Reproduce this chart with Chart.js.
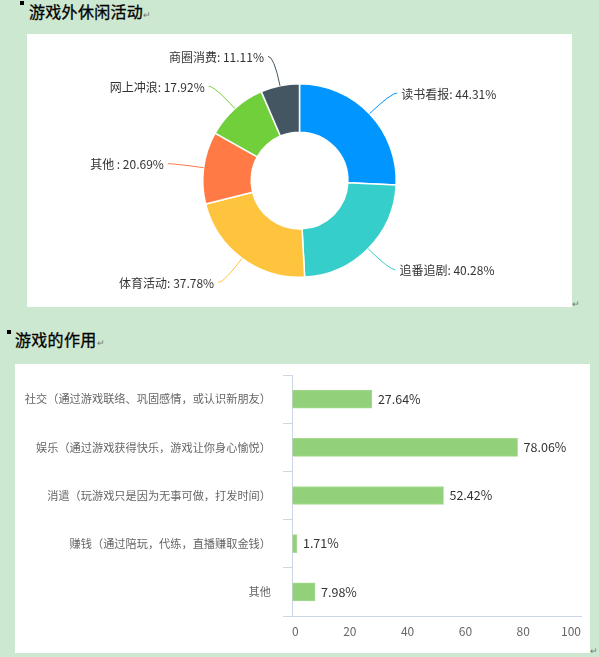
<!DOCTYPE html>
<html>
<head>
<meta charset="utf-8">
<script src="https://cdn.jsdelivr.net/npm/chart.js@4/dist/chart.umd.min.js"></script>
<style>
  body { margin:0; width:599px; height:657px; background:#cde8d0; position:relative; overflow:hidden;
         font-family:"Noto Sans CJK SC","Microsoft YaHei",sans-serif; }
  .bullet { position:absolute; width:4px; height:4px; background:#000; }
  .h { position:absolute; font-size:16px; line-height:16px; color:#000; letter-spacing:0.3px; white-space:nowrap;
       -webkit-text-stroke:0.3px #000; }
  .rt { font-size:9px; color:#777; letter-spacing:0; -webkit-text-stroke:0; }
  .mark { position:absolute; font-size:9px; color:#777; }
  .panel { position:absolute; background:#fff; }
  .panel canvas { position:absolute; left:0; top:0; }
</style>
</head>
<body>
<div class="bullet" style="left:20px;top:1px"></div>
<div class="h" style="left:29px;top:3px">游戏外休闲活动<span class="rt">↵</span></div>
<div class="panel" style="left:27px;top:34px;width:545px;height:273px">
  <canvas id="leisureChart" width="545" height="273"></canvas>
</div>
<span class="mark" style="left:572px;top:297px">↵</span>

<div class="bullet" style="left:7px;top:330px"></div>
<div class="h" style="left:15px;top:331px">游戏的作用<span class="rt">↵</span></div>
<div class="panel" style="left:15px;top:364px;width:575px;height:289px">
  <canvas id="roleChart" width="575" height="289"></canvas>
</div>
<span class="mark" style="left:590px;top:644px">↵</span>

<script>
// 游戏外休闲活动
const leisureLabels = ['读书看报', '追番追剧', '体育活动', '其他 ', '网上冲浪', '商圈消费'];
const leisureValues = [44.31, 40.28, 37.78, 20.69, 17.92, 11.11];

// 游戏的作用
const roleLabels = [
    '社交（通过游戏联络、巩固感情，或认识新朋友）',
    '娱乐（通过游戏获得快乐，游戏让你身心愉悦）',
    '消遣（玩游戏只是因为无事可做，打发时间）',
    '赚钱（通过陪玩，代练，直播赚取金钱）',
    '其他'
];
const roleValues = [27.64, 78.06, 52.42, 1.71, 7.98];
const roleTicks = [0, 20, 40, 60, 80, 100];

const pieColors = ['#0095ff', '#36cecb', '#ffc43d', '#ff7a45', '#72cf3c', '#435661'];
const axisColor = '#ccd6e6';

Chart.defaults.font.family = '"Noto Sans CJK SC", "Microsoft YaHei", sans-serif';
Chart.defaults.animation = false;

// outside labels with leader lines for the doughnut
const pieLabels = {
    id: 'pieLabels',
    afterDatasetsDraw: function(chart) {
        var ctx = chart.ctx;
        var meta = chart.getDatasetMeta(0);
        ctx.save();
        ctx.font = '12px "Noto Sans CJK SC", sans-serif';
        ctx.textBaseline = 'middle';
        meta.data.forEach(function(arc, i) {
            var p = arc.getProps(['x', 'y', 'startAngle', 'endAngle', 'outerRadius'], true);
            var mid = (p.startAngle + p.endAngle) / 2;
            var c = Math.cos(mid), s = Math.sin(mid);
            var x0 = p.x + c * p.outerRadius, y0 = p.y + s * p.outerRadius;
            var x1 = p.x + c * (p.outerRadius + 30), y1 = p.y + s * (p.outerRadius + 30);
            var side = c >= 0 ? 1 : -1;
            var x2 = x1 + side * 6;
            ctx.strokeStyle = pieColors[i];
            ctx.lineWidth = 1;
            ctx.beginPath();
            ctx.moveTo(x0, y0);
            ctx.quadraticCurveTo(x1, y1, x2, y1);
            ctx.stroke();
            ctx.fillStyle = '#333';
            ctx.textAlign = side > 0 ? 'left' : 'right';
            ctx.fillText(leisureLabels[i] + ': ' + leisureValues[i].toFixed(2) + '%', x2 + side * 4, y1 + 1);
        });
        ctx.restore();
    }
};

// value labels at the end of each bar
const barLabels = {
    id: 'barLabels',
    afterDatasetsDraw: function(chart) {
        var ctx = chart.ctx;
        var meta = chart.getDatasetMeta(0);
        ctx.save();
        ctx.font = '12.5px "Noto Sans CJK SC", sans-serif';
        ctx.fillStyle = '#333';
        ctx.textAlign = 'left';
        ctx.textBaseline = 'middle';
        meta.data.forEach(function(bar, i) {
            ctx.fillText(roleValues[i].toFixed(2) + '%', bar.x + 6, bar.y);
        });
        ctx.restore();
    }
};

new Chart(document.getElementById('leisureChart'), {
    type: 'doughnut',
    data: {
        labels: leisureLabels,
        datasets: [{
            data: leisureValues,
            backgroundColor: pieColors,
            borderColor: '#fff',
            borderWidth: 1.5,
            hoverOffset: 0
        }]
    },
    options: {
        responsive: false,
        cutout: '50%',
        layout: { padding: { top: 49, bottom: 29, left: 0, right: 0 } },
        plugins: { legend: { display: false }, tooltip: { enabled: false } }
    },
    plugins: [pieLabels]
});

new Chart(document.getElementById('roleChart'), {
    type: 'bar',
    data: {
        labels: roleLabels,
        datasets: [{
            data: roleValues,
            backgroundColor: '#93d07a',
            borderColor: '#a6da90',
            borderWidth: 1,
            barThickness: 18
        }]
    },
    options: {
        responsive: false,
        indexAxis: 'y',
        layout: { padding: { top: 11, right: 9, left: 0, bottom: 0 } },
        plugins: { legend: { display: false }, tooltip: { enabled: false } },
        scales: {
            x: {
                min: roleTicks[0],
                max: roleTicks[roleTicks.length - 1],
                grid: { display: true, drawOnChartArea: false, drawTicks: false },
                border: { display: true, color: axisColor },
                ticks: { stepSize: roleTicks[1] - roleTicks[0], padding: 8, align: 'inner',
                         color: '#666', font: { size: 12 } },
                afterFit: function(scale) { scale.height = 37; scale.paddingLeft = 0; scale.paddingRight = 0; }
            },
            y: {
                grid: { display: true, drawOnChartArea: false, drawTicks: true, tickLength: 9,
                        color: axisColor, offset: true },
                border: { display: true, color: axisColor },
                ticks: { padding: 12, color: '#666', font: { size: 11.2 }, autoSkip: false },
                afterFit: function(scale) { scale.width = 277; scale.paddingTop = 0; scale.paddingBottom = 0; }
            }
        }
    },
    plugins: [barLabels]
});
</script>
</body>
</html>
